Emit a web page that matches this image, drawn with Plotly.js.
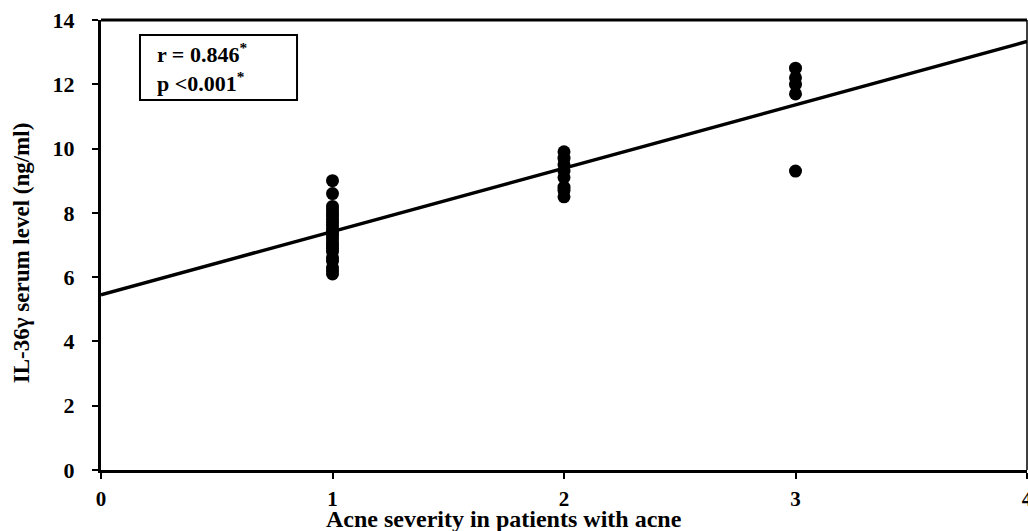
<!DOCTYPE html>
<html><head><meta charset="utf-8">
<script src="https://cdn.plot.ly/plotly-3.0.1.min.js"></script>
<style>body{margin:0;background:#fff}#c{width:1028px;height:531px}</style>
</head><body><div id="c"></div>
<script>
const severity1 = [1,1,1,1,1,1,1,1,1,1,1,1,1,1,1,1,1,1,1,1,1,1];
const il36_1 = [9.0,8.6,8.2,8.1,8.0,7.9,7.8,7.7,7.6,7.5,7.4,7.3,7.2,7.1,7.0,6.9,6.8,6.6,6.5,6.3,6.2,6.1];
const severity2 = [2,2,2,2,2,2,2,2];
const il36_2 = [9.9,9.7,9.5,9.3,9.1,8.8,8.7,8.5];
const severity3 = [3,3,3,3,3];
const il36_3 = [12.5,12.2,12.0,11.7,9.3];
const fitX = [0,4];
const fitIntercept = 5.45;
const fitSlope = 1.97;
const xTicks = [0,1,2,3,4];
const yTicks = [0,2,4,6,8,10,12,14];

const xs = severity1.concat(severity2, severity3);
const ys = il36_1.concat(il36_2, il36_3);
const fitY = fitX.map(x => fitIntercept + fitSlope*x);
const fam = '"Liberation Serif","Times New Roman",serif';

const data = [
  {x: xs, y: ys, type:'scatter', mode:'markers', marker:{color:'#000', size:13}, hoverinfo:'none', cliponaxis:false},
  {x: fitX, y: fitY, type:'scatter', mode:'lines', line:{color:'#000', width:3.5}, hoverinfo:'none'}
];
const layout = {
  width:1028, height:531,
  margin:{l:101, r:1, t:20, b:61},
  paper_bgcolor:'#fff', plot_bgcolor:'#fff',
  showlegend:false,
  font:{family:fam, color:'#000', size:21},
  xaxis:{range:[0,4], tickmode:'array', tickvals:xTicks, ticktext:xTicks.map(v => '<b>'+v+'</b>'),
    showgrid:false, zeroline:false, ticklabeloverflow:'allow', ticklabelstandoff:2,
    showline:true, linecolor:'#000', linewidth:3, ticks:'outside', ticklen:6, tickwidth:2, tickcolor:'#000',
    tickfont:{family:fam, size:21, color:'#000', weight:700}},
  yaxis:{range:[0,14], tickmode:'array', tickvals:yTicks, ticktext:yTicks.map(v => '<b>'+v+'</b>'),
    showgrid:false, zeroline:false, ticklabelstandoff:13,
    showline:true, linecolor:'#000', linewidth:3, ticks:'outside', ticklen:6, tickwidth:2, tickcolor:'#000',
    tickfont:{family:fam, size:22, color:'#000', weight:700}},
  shapes:[
    {type:'line', xref:'paper', yref:'paper', x0:0, x1:1, y0:1, y1:1, line:{color:'#000', width:3}},
    {type:'line', xref:'paper', yref:'paper', x0:1, x1:1, y0:0, y1:1, line:{color:'#000', width:1.5}},
    {type:'rect', xref:'paper', yref:'paper', x0:0.0421, x1:0.2117, y0:0.8222, y1:0.9667, line:{color:'#000', width:2}, fillcolor:'rgba(0,0,0,0)'}
  ],
  annotations:[
    {xref:'paper', yref:'paper', x:0.4352, y:-0.1089, xanchor:'center', yanchor:'middle', showarrow:false,
     text:'<b>Acne severity in patients with acne</b>', font:{family:fam, size:24, color:'#000'}},
    {xref:'paper', yref:'paper', x:-0.0864, y:0.484, xanchor:'center', yanchor:'middle', showarrow:false, textangle:-90,
     text:'<b>IL-36γ serum level (ng/ml)</b>', font:{family:fam, size:23, color:'#000'}},
    {xref:'paper', yref:'paper', x:0.0583, y:0.8944, xanchor:'left', yanchor:'middle', showarrow:false, align:'left',
     text:'<b>r = 0.846<sup>*</sup><br>p &lt;0.001<sup>*</sup></b>', font:{family:fam, size:22, color:'#000'}}
  ]
};
Plotly.newPlot('c', data, layout, {staticPlot:true});
</script></body></html>
